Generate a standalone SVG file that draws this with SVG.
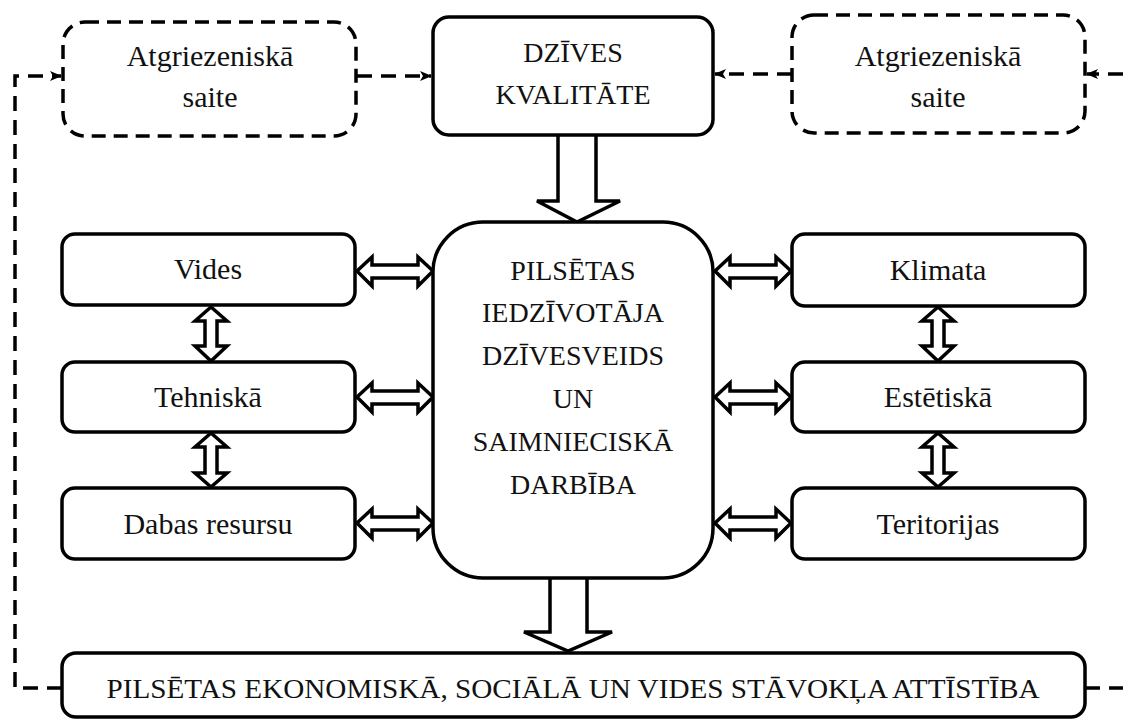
<svg xmlns="http://www.w3.org/2000/svg" width="1123" height="719" viewBox="0 0 1123 719">
<defs>
<style>
.box{fill:#fff;stroke:#000;stroke-width:3.5}
.dbox{fill:#fff;stroke:#000;stroke-width:3.5;stroke-dasharray:14 8}
.dl{fill:none;stroke:#000;stroke-width:3.5;stroke-dasharray:15 9}
.ha{fill:#fff;stroke:#000;stroke-width:3.5;stroke-linejoin:miter}
text{font-family:"Liberation Serif","DejaVu Serif",serif;font-size:28px;fill:#111;text-anchor:middle}
text.lc{font-size:30px}
</style>
<marker id="ah" viewBox="0 0 12 10" refX="11" refY="5" markerWidth="12" markerHeight="10" markerUnits="userSpaceOnUse" orient="auto">
<path d="M0,0 L12,5 L0,10 L3,5 z" fill="#000"/>
</marker>
</defs>
<rect width="1123" height="719" fill="#fff"/>
<g id="connectors">
<path class="dl" d="M62,688 H15 V76 H61" marker-end="url(#ah)"/>
<path class="dl" d="M357,76 H431" marker-end="url(#ah)"/>
<path class="dl" d="M792,74 H715" marker-end="url(#ah)"/>
<path class="dl" d="M1123,74 H1087" marker-end="url(#ah)"/>
<path class="dl" d="M1085,688 H1123"/>
<path class="ha" d="M558,135 V201 H537 L577,222 L620,201 H596 V135"/>
<path class="ha" d="M550,578 V632 H524 L568,651 L612,632 H587 V578"/>
<path class="ha" d="M357,271 L372,257 V265 H418 V257 L433,271 L418,286 V278 H372 V286 Z"/>
<path class="ha" d="M357,397 L372,383 V391 H418 V383 L433,397 L418,412 V404 H372 V412 Z"/>
<path class="ha" d="M357,523 L372,509 V517 H418 V509 L433,523 L418,538 V530 H372 V538 Z"/>
<path class="ha" d="M715,271 L730,257 V265 H776 V257 L791,271 L776,286 V278 H730 V286 Z"/>
<path class="ha" d="M715,397 L730,383 V391 H776 V383 L791,397 L776,412 V404 H730 V412 Z"/>
<path class="ha" d="M715,523 L730,509 V517 H776 V509 L791,523 L776,538 V530 H730 V538 Z"/>
<path class="ha" d="M211,307 L227,321 H217 V346 H227 L211,361 L195,346 H205 V321 H195 Z"/>
<path class="ha" d="M211,433 L227,447 H217 V473 H227 L211,487 L195,473 H205 V447 H195 Z"/>
<path class="ha" d="M938,307 L954,321 H944 V346 H954 L938,361 L922,346 H932 V321 H922 Z"/>
<path class="ha" d="M938,433 L954,447 H944 V473 H954 L938,487 L922,473 H932 V447 H922 Z"/>
</g>
<g id="fb-left"><rect class="dbox" x="63" y="22" width="293" height="114" rx="22"/>
<text class="lc" x="210" y="66">Atgriezeniskā</text><text class="lc" x="210" y="107">saite</text></g>
<g id="quality"><rect class="box" x="433" y="17" width="280" height="118" rx="16"/>
<text x="573" y="62">DZĪVES</text><text x="573" y="104">KVALITĀTE</text></g>
<g id="fb-right"><rect class="dbox" x="792" y="15" width="293" height="118" rx="22"/>
<text class="lc" x="938" y="66">Atgriezeniskā</text><text class="lc" x="938" y="107">saite</text></g>
<g id="center"><rect class="box" x="433" y="222" width="280" height="356" rx="50"/>
<text x="573" y="280">PILSĒTAS</text>
<text x="573" y="322">IEDZĪVOTĀJA</text>
<text x="573" y="365">DZĪVESVEIDS</text>
<text x="573" y="408">UN</text>
<text x="573" y="451">SAIMNIECISKĀ</text>
<text x="573" y="494">DARBĪBA</text></g>
<g id="vides"><rect class="box" x="62" y="234" width="293" height="71" rx="13"/><text class="lc" x="208" y="279">Vides</text></g>
<g id="tehniska"><rect class="box" x="62" y="362" width="293" height="70" rx="13"/><text class="lc" x="208" y="407">Tehniskā</text></g>
<g id="dabas"><rect class="box" x="62" y="488" width="293" height="71" rx="13"/><text class="lc" x="208" y="534">Dabas resursu</text></g>
<g id="klimata"><rect class="box" x="792" y="234" width="293" height="72" rx="13"/><text class="lc" x="938" y="280">Klimata</text></g>
<g id="estetiska"><rect class="box" x="792" y="362" width="293" height="70" rx="13"/><text class="lc" x="938" y="407">Estētiskā</text></g>
<g id="teritorijas"><rect class="box" x="792" y="488" width="293" height="71" rx="13"/><text class="lc" x="938" y="534">Teritorijas</text></g>
<g id="bottom"><rect class="box" x="62" y="653" width="1023" height="64" rx="14"/>
<text x="573" y="698" textLength="933" lengthAdjust="spacingAndGlyphs">PILSĒTAS EKONOMISKĀ, SOCIĀLĀ UN VIDES STĀVOKĻA ATTĪSTĪBA</text></g>
</svg>
